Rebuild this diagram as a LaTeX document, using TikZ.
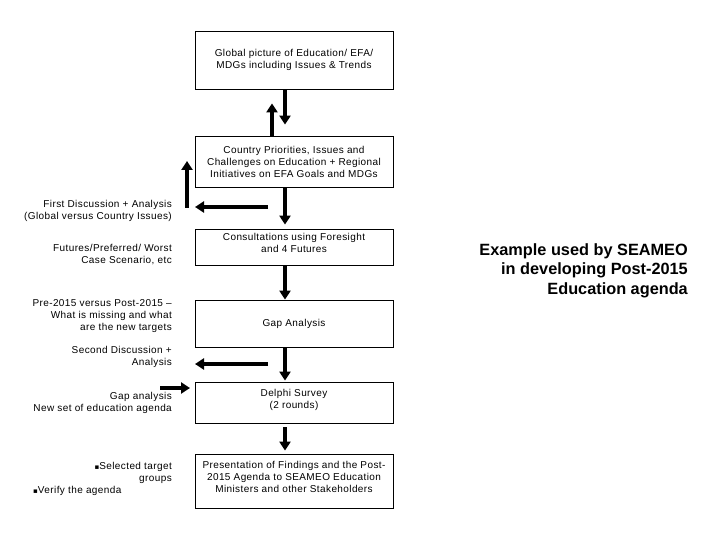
\documentclass[tikz,border=0pt]{standalone}
\usepackage{fontspec}
\setmainfont{Liberation Sans}
\newfontfamily\spaced[LetterSpace=4]{Liberation Sans}
\newfontfamily\symfont{DejaVu Sans}
\usetikzlibrary{arrows.meta}
\begin{document}
\begin{tikzpicture}[x=1pt,y=-1pt,
  box/.style={draw,line width=0.8pt,minimum width=198pt,align=center,font=\spaced\fontsize{10}{12}\selectfont,inner sep=0pt},
  lbl/.style={align=right,font=\spaced\fontsize{10}{12}\selectfont,inner sep=0pt},
  flow/.style={line width=3.7pt,-{Triangle[width=11pt,length=9pt]}}]
\useasboundingbox (0,0) rectangle (720,540);
\node[box,minimum height=58pt] (b1) at (294,60) {Global picture of Education/ EFA/\\MDGs including Issues \& Trends};
\node[box,minimum height=51pt] (b2) at (294,161.5) {Country Priorities, Issues and\\Challenges on Education + Regional\\Initiatives on EFA Goals and MDGs};
\node[box,minimum height=36pt] (b3) at (294,247) {Consultations using Foresight\\and 4 Futures\\[-4pt]\mbox{}};
\node[box,minimum height=47pt] (b4) at (294,323.5) {Gap Analysis};
\node[box,minimum height=41pt] (b5) at (294,402.5) {Delphi Survey\\(2 rounds)\\[-5pt]\mbox{}};
\node[box,minimum height=54pt] (b6) at (294,481) {Presentation of Findings and the Post-\\2015 Agenda to SEAMEO Education\\Ministers and other Stakeholders\\[-3pt]\mbox{}};

\node[lbl,anchor=east] (t1) at (172,210.5) {First Discussion + Analysis\\(Global versus Country Issues)};
\node[lbl,anchor=east] (t2) at (172,254.5) {Futures/Preferred/ Worst\\Case Scenario, etc};
\node[lbl,anchor=east] (t3) at (172,316.5) {Pre-2015 versus Post-2015 –\\What is missing and what\\are the new targets};
\node[lbl,anchor=east] (t4) at (172,356.5) {Second Discussion +\\Analysis};
\node[lbl,anchor=east] (t5) at (172,402.5) {Gap analysis\\New set of education agenda};
\node[lbl,anchor=east] (t6) at (172,472.5) {{\symfont\fontsize{7}{12}\selectfont ▪}Selected target\\groups};
\node[lbl,anchor=west] (t7) at (33,490.5) {{\symfont\fontsize{7}{12}\selectfont ▪}Verify the agenda};

\node[align=right,anchor=east,font=\fontsize{16.3}{19.5}\selectfont\bfseries,inner sep=0pt] (ex) at (688,270.5) {Example used by SEAMEO\\in developing Post-2015\\Education agenda};

\draw[flow,shorten >=11pt] ([xshift=-9pt]b1.south) -- ([xshift=-9pt]b2.north);
\draw[flow,shorten >=14pt] ([xshift=-22pt]b2.north) -- ([xshift=-22pt]b1.south);
\draw[flow,shorten >=4pt] ([xshift=-9pt]b2.south) -- ([xshift=-9pt]b3.north);
\draw[flow] ([xshift=-9pt]b3.south) -- ([xshift=-9pt]b4.north);
\draw[flow,shorten >=1pt] ([xshift=-9pt]b4.south) -- ([xshift=-9pt]b5.north);
\draw[flow,shorten <=4pt,shorten >=3pt] ([xshift=-9pt]b5.south) -- ([xshift=-9pt]b6.north);

\coordinate (h1s) at (268,207);
\coordinate (h1e) at (195,207);
\coordinate (v1s) at (187,208);
\coordinate (v1e) at (187,161);
\coordinate (h2s) at (268,364);
\coordinate (h2e) at (195,364);
\coordinate (h3s) at (160,388);
\coordinate (h3e) at (190,388);
\draw[flow] (h1s) -- (h1e);
\draw[flow] (v1s) -- (v1e);
\draw[flow] (h2s) -- (h2e);
\draw[flow] (h3s) -- (h3e);
\end{tikzpicture}
\end{document}
